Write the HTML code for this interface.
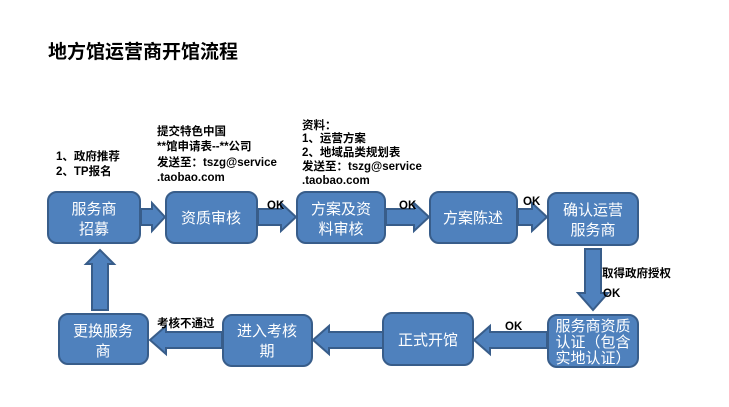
<!DOCTYPE html>
<html><head><meta charset="utf-8"><style>
body{margin:0;background:#fff;}
svg{display:block;font-family:"Liberation Sans","Noto Sans CJK SC",sans-serif;}
.b{fill:#4F81BD;stroke:#385D8A;stroke-width:2;}
.t{fill:#fff;font-size:15px;text-anchor:middle;}
.l{fill:#000;font-size:11.5px;font-weight:bold;}
</style></head><body>
<svg width="729" height="407" viewBox="0 0 729 407">
<text x="48" y="58" font-size="19" font-weight="bold" fill="#000">地方馆运营商开馆流程</text>
<g class="b">
<polygon points="141,209 152,209 152,203 165,217 152,231 152,225 141,225"/>
<polygon points="258,209 281,209 281,203 296,217 281,231 281,225 258,225"/>
<polygon points="386,209 414,209 414,203 429,217 414,231 414,225 386,225"/>
<polygon points="518,209 532,209 532,203 547,217 532,231 532,225 518,225"/>
<polygon points="585,249 601,249 601,293 608,293 593,310 578,293 585,293"/>
<polygon points="92,310 108,310 108,264 114,264 100,250 86,264 92,264"/>
<polygon points="547,332 490,332 490,326 474,340 490,354 490,348 547,348"/>
<polygon points="383,332 329,332 329,326 313,340 329,354 329,348 383,348"/>
<polygon points="222,332 166,332 166,326 150,340 166,354 166,348 222,348"/>
</g>
<rect class="b" x="48" y="192" width="92" height="51" rx="9"/>
<rect class="b" x="166" y="192" width="91" height="51" rx="9"/>
<rect class="b" x="297" y="192" width="88" height="51" rx="9"/>
<rect class="b" x="430" y="192" width="87" height="51" rx="9"/>
<rect class="b" x="548" y="193" width="90" height="52" rx="9"/>
<rect class="b" x="548" y="315" width="90" height="52" rx="9"/>
<rect class="b" x="383" y="313" width="90" height="52" rx="9"/>
<rect class="b" x="223" y="315" width="89" height="51" rx="9"/>
<rect class="b" x="59" y="314" width="89" height="50" rx="9"/>
<text class="t" x="94" y="214">服务商</text><text class="t" x="94" y="234">招募</text>
<text class="t" x="211" y="223">资质审核</text>
<text class="t" x="341" y="214">方案及资</text><text class="t" x="341" y="234">料审核</text>
<text class="t" x="473" y="223">方案陈述</text>
<text class="t" x="593" y="215">确认运营</text><text class="t" x="593" y="235">服务商</text>
<text class="t" x="593" y="331" font-size="13">服务商资质</text><text class="t" x="593" y="347" font-size="13">认证（包含</text><text class="t" x="593" y="363" font-size="13">实地认证）</text>
<text class="t" x="428" y="345">正式开馆</text>
<text class="t" x="267" y="336">进入考核</text><text class="t" x="267" y="356">期</text>
<text class="t" x="103" y="336">更换服务</text><text class="t" x="103" y="356">商</text>
<text class="l" x="56" y="160">1、政府推荐</text>
<text class="l" x="56" y="175">2、TP报名</text>
<text class="l" x="157" y="135">提交特色中国</text>
<text class="l" x="157" y="150">**馆申请表--**公司</text>
<text class="l" x="157" y="166">发送至：tszg@service</text>
<text class="l" x="157" y="181">.taobao.com</text>
<text class="l" x="302" y="129">资料：</text>
<text class="l" x="302" y="142">1、运营方案</text>
<text class="l" x="302" y="156">2、地域品类规划表</text>
<text class="l" x="302" y="170">发送至：tszg@service</text>
<text class="l" x="302" y="184">.taobao.com</text>
<text class="l" x="267" y="209" font-size="13">OK</text>
<text class="l" x="399" y="209" font-size="13">OK</text>
<text class="l" x="523" y="205" font-size="13">OK</text>
<text class="l" x="602" y="277">取得政府授权</text>
<text class="l" x="603" y="297" font-size="13">OK</text>
<text class="l" x="505" y="330" font-size="13">OK</text>
<text class="l" x="157" y="327">考核不通过</text>
</svg>
</body></html>
